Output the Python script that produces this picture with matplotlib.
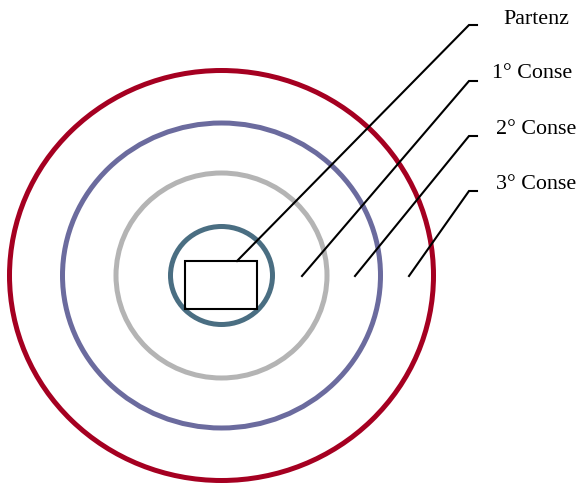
import matplotlib
matplotlib.use("Agg")
import matplotlib.pyplot as plt
from matplotlib.patches import Ellipse, Rectangle

labels = ["Partenz", "1° Conse", "2° Conse", "3° Conse"]
ring_rx = [51, 105.5, 159, 212]
ring_ry = [49, 102.5, 152.5, 205]
ring_colors = ["#4A6E82", "#B4B4B4", "#6B6B9E", "#A50021"]
center = (221.5, 275.5)
rect = (185, 261, 72, 48)  # x, y, w, h
leader_start = [(237, 261), (302, 276), (355, 276), (409, 276)]
leader_elbow = [(469, 25), (469, 81), (469, 136), (469, 191)]
elbow_len = 8
label_pos = [(536, 19), (532.5, 74), (536, 129), (536, 184)]

fig = plt.figure(figsize=(5.79, 4.86), dpi=100)
ax = fig.add_axes([0, 0, 1, 1])
ax.set_xlim(0, 579)
ax.set_ylim(486, 0)
ax.set_aspect("equal")
ax.axis("off")

for rx, ry, c in zip(ring_rx, ring_ry, ring_colors):
    ax.add_patch(Ellipse(center, 2 * rx, 2 * ry, fill=False, edgecolor=c, linewidth=3.6))

ax.add_patch(Rectangle(rect[:2], rect[2], rect[3], fill=False, edgecolor="black", linewidth=1.5))

for (x0, y0), (x1, y1) in zip(leader_start, leader_elbow):
    ax.plot([x0, x1, x1 + elbow_len], [y0, y1, y1], color="black", linewidth=1.5,
            solid_joinstyle="miter")

for lab, (x, y) in zip(labels, label_pos):
    ax.text(x, y, lab, ha="center", va="center", fontsize=15.8,
            family=["Liberation Serif", "DejaVu Serif"])

fig.savefig("out.png", dpi=100)
